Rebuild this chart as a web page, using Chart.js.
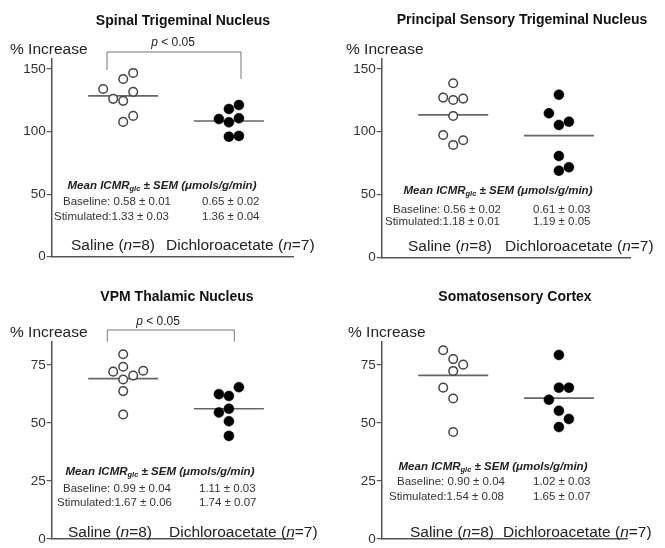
<!DOCTYPE html>
<html>
<head>
<meta charset="utf-8">
<script src="https://cdn.jsdelivr.net/npm/chart.js@4.4.1/dist/chart.umd.min.js"></script>
<style>
body { margin:0; background:#fff; }
#wrap { position:relative; width:665px; height:548px; overflow:hidden; }
canvas { position:absolute; }
</style>
</head>
<body>
<div id="wrap">
  <canvas id="c0" width="330" height="270" style="left:0px;top:0px"></canvas>
  <canvas id="c1" width="335" height="270" style="left:330px;top:0px"></canvas>
  <canvas id="c2" width="330" height="278" style="left:0px;top:270px"></canvas>
  <canvas id="c3" width="335" height="278" style="left:330px;top:270px"></canvas>
</div>
<script>
var panelTitles = ['Spinal Trigeminal Nucleus', 'Principal Sensory Trigeminal Nucleus', 'VPM Thalamic Nucleus', 'Somatosensory Cortex']
var groupNames = ['Saline', 'Dichloroacetate']
var groupN = [8, 7]

// % increase per animal + its slot inside the column (dot plot jitter)
var stnSaline = [134.0, 142.0, 146.8, 126.1, 124.5, 131.7, 107.7, 112.5]
var stnSalineSlot = [-2, 0, 1, -1, 0, 1, 0, 1]
var stnDca = [110.0, 118.0, 121.2, 107.4, 110.6, 95.9, 96.5]
var stnDcaSlot = [-1, 0, 1, 0, 1, 0, 1]

var psnSaline = [138.6, 127.2, 125.3, 126.4, 112.6, 97.4, 89.5, 93.2]
var psnSalineSlot = [0, -1, 0, 1, 0, -1, 0, 1]
var psnDca = [129.5, 114.7, 105.4, 108.0, 80.7, 69.0, 71.7]
var psnDcaSlot = [0, -1, 0, 1, 0, 0, 1]

var vpmSaline = [79.6, 74.2, 72.1, 68.7, 70.4, 72.5, 63.7, 53.6]
var vpmSalineSlot = [0, 0, -1, 0, 1, 2, 0, 0]
var vpmDca = [62.4, 61.6, 65.4, 54.5, 56.1, 50.7, 44.4]
var vpmDcaSlot = [-1, 0, 1, -1, 0, 0, 0]

var cortexSaline = [81.3, 77.5, 75.1, 72.4, 65.2, 60.5, 46.1]
var cortexSalineSlot = [-1, 0, 1, 0, -1, 0, 0]
var cortexDca = [79.3, 65.2, 65.2, 60.0, 55.2, 51.7, 48.2]
var cortexDcaSlot = [0, 0, 1, -1, 0, 1, 0]

var salineMeans = [128.5, 113.4, 69.1, 70.5]
var dcaMeans = [108.4, 96.9, 56.1, 60.7]

var baselineSaline = ['0.58 ± 0.01', '0.56 ± 0.02', '0.99 ± 0.04', '0.90 ± 0.04']
var baselineDca = ['0.65 ± 0.02', '0.61 ± 0.03', '1.11 ± 0.03', '1.02 ± 0.03']
var stimSaline = ['1.33 ± 0.03', '1.18 ± 0.01', '1.67 ± 0.06', '1.54 ± 0.08']
var stimDca = ['1.36 ± 0.04', '1.19 ± 0.05', '1.74 ± 0.07', '1.65 ± 0.07']
var significant = [true, false, true, false]

var yTicksTop = [0, 50, 100, 150]
var yTicksBottom = [0, 25, 50, 75]
var yMax = [158.5, 158.5, 85, 85]

var salineVals = [stnSaline, psnSaline, vpmSaline, cortexSaline]
var salineSlots = [stnSalineSlot, psnSalineSlot, vpmSalineSlot, cortexSalineSlot]
var dcaVals = [stnDca, psnDca, vpmDca, cortexDca]
var dcaSlots = [stnDcaSlot, psnDcaSlot, vpmDcaSlot, cortexDcaSlot]
var yTicks = [yTicksTop, yTicksTop, yTicksBottom, yTicksBottom]

// ---- layout (pixels, local to each canvas)
var layouts = [
  { w: 330, h: 270, left: 51.7, right: 293, top: 58.3, bottom: 256.7,
    title: [183, 20.7], ylab: [10, 50], p: [173, 42.7], bracket: [52, 107, 70, 241, 79],
    head: [162, 185.7], base: [63, 202.3], stim: [54, 217.3], col2: 202, groups: [71, 166, 246] },
  { w: 335, h: 270, left: 51.7, right: 300, top: 58.3, bottom: 257.3,
    title: [192, 20], ylab: [16, 50], p: null, bracket: null,
    head: [168, 190.7], base: [63, 210], stim: [55, 222], col2: 203, groups: [78, 175, 247] },
  { w: 330, h: 278, left: 51.7, right: 293, top: 71.7, bottom: 275,
    title: [177, 26.7], ylab: [10, 62.7], p: [158, 51.7], bracket: [60, 107.3, 71.7, 234.3, 71.7],
    head: [160, 201.7], base: [63, 219], stim: [57, 233], col2: 199, groups: [68, 169, 263] },
  { w: 335, h: 278, left: 51.7, right: 297, top: 71.7, bottom: 275,
    title: [185, 27.3], ylab: [18, 62.7], p: null, bracket: null,
    head: [163, 196.7], base: [67, 212.3], stim: [59, 227.3], col2: 203, groups: [80, 173, 263] }
]

var FF = '"Liberation Sans", Arial, Helvetica, sans-serif'
var axisColor = '#555'
var pxPerUnit = 105.7
var jit = 10 / pxPerUnit
var halfLine = 35 / pxPerUnit

function richText(ctx, parts, x, y, align){
    var w = 0
    parts.forEach(p => { ctx.font = p.f; w += ctx.measureText(p.t).width })
    var cx = (align == 'center') ? x - w / 2 : x
    parts.forEach(p => {
        ctx.font = p.f
        ctx.fillText(p.t, cx, y + (p.dy || 0))
        cx += ctx.measureText(p.t).width
    })
}

function panelPlugin(i){
    var L = layouts[i]
    return {
        id: 'panelText' + i,
        afterDraw: (chart) => {
            var ctx = chart.ctx
            ctx.save()
            ctx.textBaseline = 'middle'

            ctx.fillStyle = '#111'
            ctx.textAlign = 'center'
            ctx.font = 'bold 14px ' + FF
            ctx.fillText(panelTitles[i], L.title[0], L.title[1])

            ctx.textAlign = 'left'
            ctx.fillStyle = '#222'
            ctx.font = '15.5px ' + FF
            ctx.fillText('% Increase', L.ylab[0], L.ylab[1])

            if(significant[i]){
                richText(ctx, [
                    {t: 'p', f: 'italic 12px ' + FF},
                    {t: ' < 0.05', f: '12px ' + FF}
                ], L.p[0], L.p[1], 'center')
                var b = L.bracket
                ctx.strokeStyle = '#777'
                ctx.lineWidth = 1
                ctx.beginPath()
                ctx.moveTo(b[1], b[2]); ctx.lineTo(b[1], b[0])
                ctx.lineTo(b[3], b[0]); ctx.lineTo(b[3], b[4])
                ctx.stroke()
            }

            ctx.fillStyle = '#222'
            richText(ctx, [
                {t: 'Mean ICMR', f: 'italic bold 11.5px ' + FF},
                {t: 'glc', f: 'italic bold 7.5px ' + FF, dy: 3},
                {t: ' ± SEM (μmols/g/min)', f: 'italic bold 11.5px ' + FF}
            ], L.head[0], L.head[1], 'center')

            ctx.fillStyle = '#333'
            ctx.font = '11.5px ' + FF
            ctx.fillText('Baseline: ' + baselineSaline[i], L.base[0], L.base[1])
            ctx.fillText(baselineDca[i], L.col2, L.base[1])
            ctx.fillText('Stimulated:' + stimSaline[i], L.stim[0], L.stim[1])
            ctx.fillText(stimDca[i], L.col2, L.stim[1])

            ctx.fillStyle = '#222'
            var g = L.groups
            richText(ctx, [
                {t: groupNames[0] + ' (', f: '15.5px ' + FF},
                {t: 'n', f: 'italic 15.5px ' + FF},
                {t: '=' + groupN[0] + ')', f: '15.5px ' + FF}
            ], g[0], g[2], 'left')
            richText(ctx, [
                {t: groupNames[1] + ' (', f: '15.5px ' + FF},
                {t: 'n', f: 'italic 15.5px ' + FF},
                {t: '=' + groupN[1] + ')', f: '15.5px ' + FF}
            ], g[1], g[2], 'left')
            ctx.restore()
        }
    }
}

function makeChart(i){
    var L = layouts[i]
    var xMin = 1 - 71.5 / pxPerUnit
    var xMax = xMin + (L.right - L.left) / pxPerUnit

    var salinePts = salineVals[i].map((v, k) => ({x: 1 + salineSlots[i][k] * jit, y: v}))
    var dcaPts = dcaVals[i].map((v, k) => ({x: 2 + dcaSlots[i][k] * jit, y: v}))

    var ctx = document.getElementById('c' + i)
    return new Chart(ctx, {
        type: 'scatter',
        data: {
            datasets: [
                {
                    data: salinePts, order: 1,
                    pointRadius: 4.3, pointBorderWidth: 1.5,
                    pointBorderColor: '#444', pointBackgroundColor: '#fff'
                },
                {
                    data: dcaPts, order: 1,
                    pointRadius: 5, pointBorderWidth: 0.5,
                    pointBorderColor: '#000', pointBackgroundColor: '#000'
                },
                {
                    data: [{x: 1 - halfLine, y: salineMeans[i]}, {x: 1 + halfLine, y: salineMeans[i]}],
                    showLine: true, pointRadius: 0, borderColor: '#666', borderWidth: 1.6, order: 2
                },
                {
                    data: [{x: 2 - halfLine, y: dcaMeans[i]}, {x: 2 + halfLine, y: dcaMeans[i]}],
                    showLine: true, pointRadius: 0, borderColor: '#666', borderWidth: 1.6, order: 2
                }
            ]
        },
        options: {
            responsive: false,
            animation: false,
            devicePixelRatio: 1,
            layout: { padding: { left: 0, right: L.w - L.right, top: L.top, bottom: L.h - L.bottom } },
            plugins: { legend: { display: false }, tooltip: { enabled: false } },
            scales: {
                x: {
                    type: 'linear', min: xMin, max: xMax,
                    afterFit: (ax) => { ax.height = 0 },
                    grid: { display: false },
                    ticks: { display: false },
                    border: { display: true, color: axisColor, width: 1.5 }
                },
                y: {
                    type: 'linear', min: 0, max: yMax[i],
                    afterBuildTicks: (ax) => { ax.ticks = yTicks[i].map(v => ({value: v})) },
                    afterFit: (ax) => { ax.width = L.left },
                    grid: { display: true, drawOnChartArea: false, drawTicks: true, tickLength: 5, color: axisColor, lineWidth: 1.2 },
                    border: { display: true, color: axisColor, width: 1.5 },
                    ticks: { color: '#333', font: { family: FF, size: 13.5 }, padding: 1 }
                }
            }
        },
        plugins: [panelPlugin(i)]
    })
}

var charts = [0, 1, 2, 3].map(makeChart)
</script>
</body>
</html>
